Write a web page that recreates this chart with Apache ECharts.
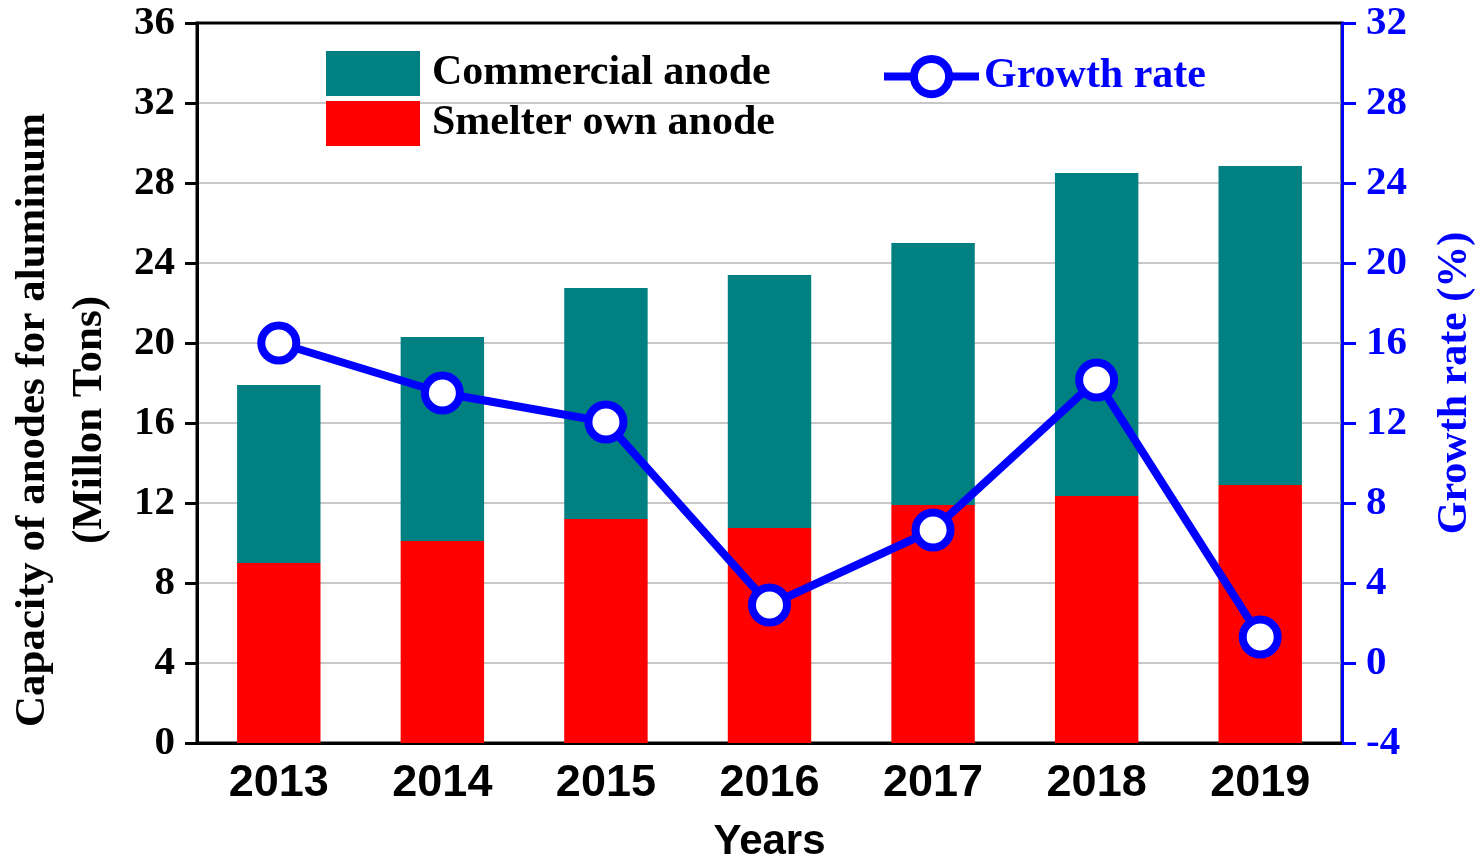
<!DOCTYPE html>
<html>
<head>
<meta charset="utf-8">
<script src="https://cdn.jsdelivr.net/npm/echarts@6/dist/echarts.min.js"></script>
<style>
  html, body { margin: 0; padding: 0; background: #fff; }
  #main { width: 1475px; height: 857px; }
</style>
</head>
<body>
<div id="main"></div>
<script>
// values
const years = ['2013', '2014', '2015', '2016', '2017', '2018', '2019'];
const smelterOwn = [9.0, 10.1, 11.2, 10.75, 11.9, 12.35, 12.9];
const commercial = [8.9, 10.2, 11.55, 12.65, 13.1, 16.15, 15.95];
const growthRate = [16.0, 13.5, 12.05, 2.9, 6.65, 14.15, 1.3];

const serif = '"Liberation Serif", "Times New Roman", serif';
const sans = '"Liberation Sans", Arial, sans-serif';

const chart = echarts.init(document.getElementById('main'));

chart.setOption({
  animation: false,
  backgroundColor: '#fff',
  grid: {
    left: 197, right: 133, top: 23, bottom: 114,
    outerBoundsMode: 'none',
    containLabel: false,
    show: true, borderColor: '#000', borderWidth: 3
  },
  legend: [
    {
      orient: 'vertical',
      left: 321, top: 46,
      itemWidth: 94, itemHeight: 45, itemGap: 5,
      icon: 'rect',
      data: ['Commercial anode', 'Smelter own anode'],
      textStyle: { fontFamily: serif, fontWeight: 'bold', fontSize: 42, color: '#000', padding: [6, 0, 0, 7] }
    },
    {
      left: 875, top: 50,
      itemWidth: 95, itemHeight: 44,
      data: ['Growth rate'],
      lineStyle: { width: 8, color: '#0000ff' },
      itemStyle: { borderWidth: 8, borderColor: '#0000ff', color: '#fff' },
      textStyle: { fontFamily: serif, fontWeight: 'bold', fontSize: 42, color: '#0000ff', padding: [2, 0, 0, 0] }
    }
  ],
  xAxis: [
    {
      type: 'category',
      data: years,
      name: 'Years',
      nameLocation: 'middle',
      nameGap: 78,
      nameTextStyle: { fontFamily: sans, fontWeight: 'bold', fontSize: 42, color: '#000' },
      axisLine: { lineStyle: { color: '#000', width: 3 } },
      axisTick: { alignWithLabel: true, length: 12, lineStyle: { color: '#000', width: 3 } },
      axisLabel: { fontFamily: sans, fontWeight: 'bold', fontSize: 45, color: '#000', margin: 18 },
      splitLine: { show: false }
    },
    {
      type: 'category',
      data: years,
      position: 'bottom',
      axisLine: { show: false },
      axisTick: { alignWithLabel: false, length: 6, lineStyle: { color: '#000', width: 3 } },
      axisLabel: { show: false },
      splitLine: { show: false }
    }
  ],
  yAxis: [
    {
      type: 'value',
      min: 0, max: 36, interval: 4,
      name: 'Capacity of anodes for aluminum\n(Millon Tons)',
      nameLocation: 'middle',
      nameRotate: 90,
      nameGap: 79,
      nameTextStyle: { fontFamily: serif, fontWeight: 'bold', fontSize: 43, color: '#000', lineHeight: 57, padding: [0, 74, 0, 0] },
      axisLine: { show: true, lineStyle: { color: '#000', width: 3 } },
      axisTick: { show: true, length: 12, lineStyle: { color: '#000', width: 3 } },
      axisLabel: { fontFamily: serif, fontWeight: 'bold', fontSize: 41, color: '#000', margin: 22 },
      splitLine: { showMinLine: false, showMaxLine: false, lineStyle: { color: '#b4b4b4', width: 1.5 } }
    },
    {
      type: 'value',
      min: -4, max: 32, interval: 4,
      name: 'Growth rate (%)',
      nameLocation: 'middle',
      nameRotate: 90,
      nameGap: 92,
      nameTextStyle: { fontFamily: serif, fontWeight: 'bold', fontSize: 42, color: '#0000ff' },
      axisLine: { show: true, lineStyle: { color: '#0000ff', width: 3 } },
      axisTick: { show: true, length: 14, lineStyle: { color: '#0000ff', width: 3 } },
      axisLabel: { fontFamily: serif, fontWeight: 'bold', fontSize: 41, color: '#0000ff', margin: 24 },
      splitLine: { show: false }
    }
  ],
  series: [
    {
      name: 'Smelter own anode',
      type: 'bar',
      stack: 'anode',
      barWidth: '51%',
      itemStyle: { color: '#ff0000' },
      data: smelterOwn
    },
    {
      name: 'Commercial anode',
      type: 'bar',
      stack: 'anode',
      barWidth: '51%',
      itemStyle: { color: '#008080' },
      data: commercial
    },
    {
      name: 'Growth rate',
      type: 'line',
      yAxisIndex: 1,
      symbol: 'circle',
      symbolSize: 35,
      lineStyle: { color: '#0000ff', width: 8 },
      itemStyle: { color: '#fff', borderColor: '#0000ff', borderWidth: 8 },
      data: growthRate,
      z: 5
    }
  ]
});
</script>
</body>
</html>
